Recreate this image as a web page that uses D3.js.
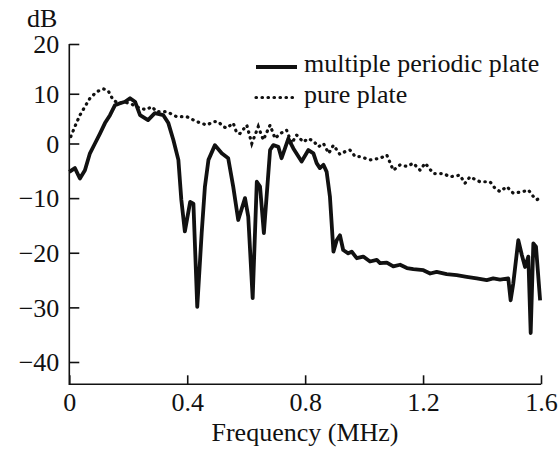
<html>
  <head>
    <title>Transmission</title>
    <meta charset="utf-8" />
    <script src="https://cdnjs.cloudflare.com/ajax/libs/d3/7.6.1/d3.min.js"></script>
    <style>
      body { margin: 0; background: #fff; }
      svg { width: 560px; height: 449px; display: block; }
    </style>
  </head>
  <body>
    <svg></svg>
  </body>

  <script>
    const seriesNames = ["multiple periodic plate", "pure plate"];
    const xTicks = [0, 0.4, 0.8, 1.2, 1.6];
    const yTicks = [20, 10, 0, -10, -20, -30, -40];

    // multiple periodic plate
    const freqMulti = [0, 0.019, 0.036, 0.053, 0.07, 0.087, 0.104, 0.121, 0.138, 0.155, 0.172, 0.189, 0.206, 0.223, 0.24, 0.267, 0.29, 0.319, 0.336, 0.353, 0.37, 0.38, 0.392, 0.41, 0.421, 0.434, 0.449, 0.46, 0.472, 0.494, 0.517, 0.539, 0.556, 0.573, 0.596, 0.607, 0.622, 0.636, 0.647, 0.66, 0.681, 0.692, 0.709, 0.72, 0.743, 0.76, 0.788, 0.811, 0.828, 0.839, 0.85, 0.862, 0.873, 0.884, 0.896, 0.907, 0.918, 0.929, 0.946, 0.958, 0.975, 0.997, 1.02, 1.043, 1.054, 1.077, 1.099, 1.122, 1.145, 1.167, 1.201, 1.224, 1.246, 1.28, 1.314, 1.348, 1.382, 1.416, 1.438, 1.461, 1.489, 1.497, 1.506, 1.523, 1.535, 1.546, 1.557, 1.565, 1.574, 1.583, 1.597];
    const dbMulti = [-5.2, -4.5, -6.4, -4.9, -1.8, 0, 2.0, 4.1, 5.7, 7.7, 8.1, 8.4, 9.1, 8.4, 5.7, 4.7, 6.1, 5.7, 4.1, 0.7, -3.0, -10.3, -16.1, -10.7, -11.0, -29.9, -16.4, -7.9, -3.0, -0.3, -1.8, -2.7, -7.9, -14.0, -10.0, -13.4, -28.3, -7.0, -7.9, -16.4, -1.2, -0.3, -0.6, -2.7, 1.0, -0.9, -3.3, -1.2, -1.8, -3.6, -4.5, -3.9, -5.2, -9.7, -19.8, -17.7, -16.8, -19.5, -20.1, -19.8, -21.0, -20.7, -21.6, -21.3, -21.9, -21.8, -22.5, -22.2, -22.8, -23.0, -23.2, -23.8, -23.5, -23.9, -24.1, -24.4, -24.7, -25.0, -24.7, -24.9, -24.7, -28.7, -25.6, -17.7, -20.4, -22.6, -20.7, -34.7, -18.3, -18.9, -28.7];

    // pure plate
    const freqPure = [0.005, 0.019, 0.036, 0.053, 0.07, 0.093, 0.115, 0.132, 0.149, 0.166, 0.19, 0.215, 0.24, 0.26, 0.28, 0.296, 0.33, 0.364, 0.398, 0.432, 0.466, 0.49, 0.505, 0.522, 0.534, 0.556, 0.568, 0.579, 0.602, 0.619, 0.641, 0.658, 0.681, 0.698, 0.715, 0.737, 0.754, 0.771, 0.794, 0.81, 0.828, 0.845, 0.862, 0.88, 0.896, 0.918, 0.935, 0.952, 0.97, 0.986, 1.02, 1.054, 1.077, 1.099, 1.122, 1.145, 1.167, 1.19, 1.207, 1.235, 1.269, 1.291, 1.325, 1.342, 1.359, 1.393, 1.427, 1.444, 1.461, 1.484, 1.506, 1.54, 1.557, 1.574, 1.585, 1.597];
    const dbPure = [1.4, 3.4, 5.7, 7.4, 9.1, 10.4, 11.0, 10.6, 8.7, 8.1, 8.3, 7.8, 7.1, 6.8, 7.4, 6.4, 6.4, 5.4, 5.4, 4.4, 3.7, 4.4, 4.4, 3.4, 3.1, 4.1, 2.1, 2.0, 3.7, 0, 3.4, 0.7, 3.7, 1.0, 2.0, 2.7, 0, 1.7, 0.3, 1.0, 0.5, -0.6, 0, -1.8, -0.3, -2.0, -1.5, -1.2, -2.4, -2.4, -3.0, -2.7, -2.1, -4.9, -3.9, -4.2, -3.6, -4.9, -3.6, -5.5, -5.5, -6.1, -5.8, -7.3, -6.1, -7.0, -7.0, -8.2, -8.8, -7.9, -9.1, -8.8, -8.5, -9.7, -10.3, -10.0];

    const FONT = "'Liberation Serif', 'Times New Roman', serif";
    const svg = d3.select("svg");
    const x0 = 69.3, x1 = 541, yAxisBottom = 384.3;

    const xScale = d3.scaleLinear().domain([0, 1.6]).range([x0, x1]);
    // the printed axis is slightly stretched towards the bottom
    const yScale = d3.scaleLinear().domain([20, 0, -40]).range([44, 143.5, 362]);

    // frame
    svg.append("path")
      .attr("d", `M${x0},${yScale(20)}V${yAxisBottom}H${x1}`)
      .attr("fill", "none")
      .attr("stroke", "#111")
      .attr("stroke-width", 1.6);

    const xAxis = d3.axisBottom(xScale)
      .tickValues(xTicks)
      .tickSizeInner(-9)
      .tickSizeOuter(0)
      .tickPadding(8)
      .tickFormat((d) => (d === 0 ? "0" : d3.format(".1f")(d)));
    const xg = svg.append("g").attr("transform", `translate(0,${yAxisBottom})`).call(xAxis);

    const yAxis = d3.axisLeft(yScale)
      .tickValues(yTicks)
      .tickSizeInner(-10)
      .tickSizeOuter(0)
      .tickPadding(10)
      .tickFormat((d) => (d < 0 ? "\u2212" + Math.abs(d) : d));
    const yg = svg.append("g").attr("transform", `translate(${x0},0)`).call(yAxis);

    [xg, yg].forEach((g) => {
      g.attr("font-family", null).attr("font-size", null);
      g.select(".domain").remove();
      g.selectAll(".tick line").attr("stroke", "#111").attr("stroke-width", 1.6);
      g.selectAll(".tick text")
        .style("font-family", FONT)
        .style("font-size", "26px")
        .attr("fill", "#111");
    });
    yg.selectAll(".tick text").attr("dy", "0.34em");

    svg.append("text").attr("x", 27).attr("y", 27)
      .style("font-family", FONT).style("font-size", "26px").attr("fill", "#111").text("dB");
    svg.append("text").attr("x", 305).attr("y", 441).attr("text-anchor", "middle")
      .style("font-family", FONT).style("font-size", "26px").attr("fill", "#111").text("Frequency (MHz)");

    const line = d3.line().x((d) => xScale(d[0])).y((d) => yScale(d[1]));

    svg.append("path")
      .attr("d", line(d3.zip(freqPure, dbPure)))
      .attr("fill", "none")
      .attr("stroke", "#111")
      .attr("stroke-width", 3.2)
      .attr("stroke-linecap", "round")
      .attr("stroke-dasharray", "0.5,5.5");

    svg.append("path")
      .attr("d", line(d3.zip(freqMulti, dbMulti)))
      .attr("fill", "none")
      .attr("stroke", "#111")
      .attr("stroke-width", 3.8)
      .attr("stroke-linejoin", "round");

    // legend
    const legend = svg.append("g");
    seriesNames.forEach((name, i) => {
      const ly = 67 + i * 30.5;
      legend.append("line")
        .attr("x1", 256).attr("x2", 297).attr("y1", ly).attr("y2", ly)
        .attr("stroke", "#111")
        .attr("stroke-width", i === 0 ? 3.8 : 3.2)
        .attr("stroke-linecap", i === 0 ? "butt" : "round")
        .attr("stroke-dasharray", i === 0 ? null : "0.5,5.5");
      legend.append("text")
        .attr("x", 304).attr("y", ly + 5)
        .style("font-family", FONT)
        .style("font-size", "26px")
        .attr("fill", "#111")
        .text(name);
    });
  </script>
</html>
